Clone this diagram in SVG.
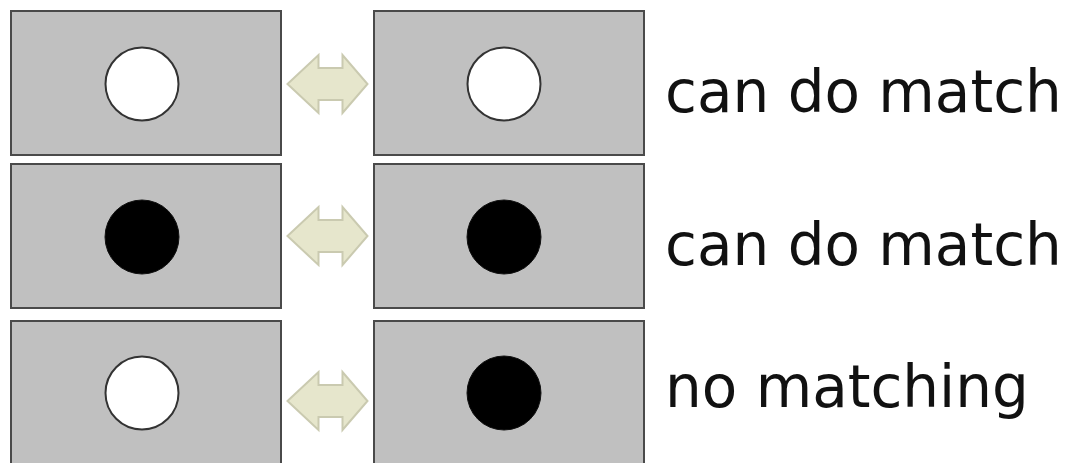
<svg xmlns="http://www.w3.org/2000/svg" width="1068" height="463" viewBox="0 0 1068 463">
<defs>
<style>
.panel{fill:#c0c0c0;stroke:#4a4a4a;stroke-width:2}
.white{fill:#ffffff;stroke:#333333;stroke-width:2}
.black{fill:#000000;stroke:#111111;stroke-width:1}
.arrow{fill:#e6e6cc;stroke:#cacab0;stroke-width:2;stroke-linejoin:miter}
.label{font-family:"DejaVu Sans",sans-serif;font-size:58px;fill:#111111}
</style>
<path id="dbl" d="M-40,0 L-9,-29 L-9,-16 L15,-16 L15,-29 L40,0 L15,29 L15,16 L-9,16 L-9,29 Z"/>
</defs>
<rect width="1068" height="463" fill="#ffffff"/>
<g id="row1">
<g id="r1-left"><rect class="panel" x="11" y="11" width="270" height="144"/><circle class="white" cx="142" cy="84" r="36.5"/></g>
<g id="r1-right"><rect class="panel" x="374" y="11" width="270" height="144"/><circle class="white" cx="504" cy="84" r="36.5"/></g>
<text class="label" x="665" y="112">can do match</text>
</g>
<g id="row2">
<g id="r2-left"><rect class="panel" x="11" y="164" width="270" height="144"/><circle class="black" cx="142" cy="237" r="37"/></g>
<g id="r2-right"><rect class="panel" x="374" y="164" width="270" height="144"/><circle class="black" cx="504" cy="237" r="37"/></g>
<text class="label" x="665" y="265">can do match</text>
</g>
<g id="row3">
<g id="r3-left"><rect class="panel" x="11" y="321" width="270" height="160"/><circle class="white" cx="142" cy="393" r="36.5"/></g>
<g id="r3-right"><rect class="panel" x="374" y="321" width="270" height="160"/><circle class="black" cx="504" cy="393" r="37"/></g>
<text class="label" x="665" y="407">no matching</text>
</g>
<g id="connectors">
<use href="#dbl" class="arrow" transform="translate(327.5,84)"/>
<use href="#dbl" class="arrow" transform="translate(327.5,236)"/>
<use href="#dbl" class="arrow" transform="translate(327.5,401)"/>
</g>
</svg>
